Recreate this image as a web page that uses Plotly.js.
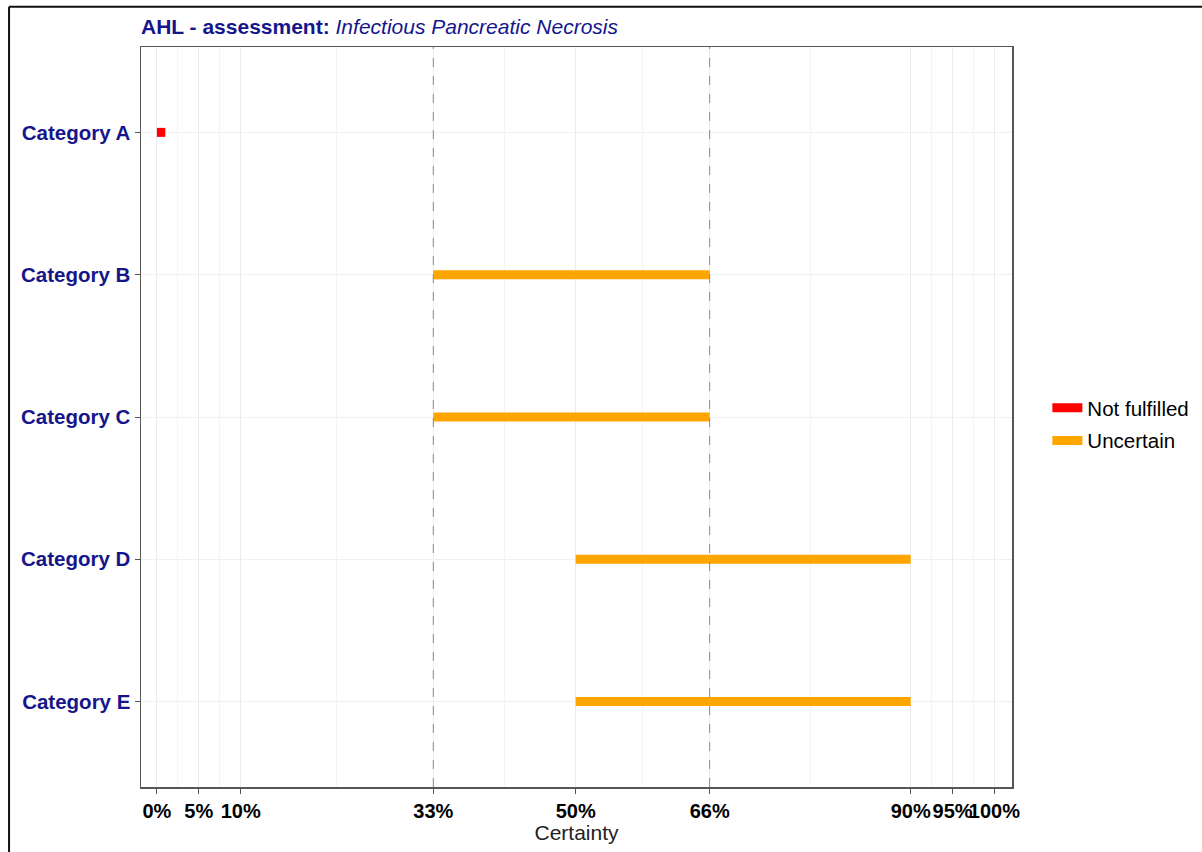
<!DOCTYPE html>
<html>
<head>
<meta charset="utf-8">
<script src="https://cdn.plot.ly/plotly-3.0.1.min.js"></script>
<style>
  html, body { margin: 0; padding: 0; background: #fff; }
  #chart { width: 1202px; height: 852px; }
</style>
</head>
<body>
<div id="chart"></div>
<script>
// ---- data ----
const categories = ["Category A", "Category B", "Category C", "Category D", "Category E"];
const startValues = [0, 33, 33, 50, 50];
const endValues   = [1, 66, 66, 90, 90];
const statuses    = ["Not fulfilled", "Uncertain", "Uncertain", "Uncertain", "Uncertain"];
const statusNames = ["Not fulfilled", "Uncertain"];
const statusColors = ["#ff0000", "#ffa500"];
const tickValues = [0, 5, 10, 33, 50, 66, 90, 95, 100];
const tickLabels = ["0%", "5%", "10%", "33%", "50%", "66%", "90%", "95%", "100%"];
const minorValues = [2.5, 7.5, 21.5, 41.5, 58, 78, 92.5, 97.5];
const refLines = [33, 66];

// ---- traces ----
const seen = {};
const traces = categories.map((cat, i) => {
  const s = statuses[i];
  const ci = statusNames.indexOf(s);
  const show = !seen[s];
  seen[s] = true;
  return {
    type: "scatter",
    mode: "lines",
    x: [startValues[i], endValues[i]],
    y: [cat, cat],
    name: s,
    legendgroup: s,
    showlegend: show,
    legendrank: ci + 1,
    line: { color: statusColors[ci], width: 9 },
    hoverinfo: "x+y+name"
  };
});

const shapes = refLines.map(v => ({
  type: "line", xref: "x", yref: "paper",
  x0: v, x1: v, y0: 0, y1: 1,
  line: { color: "#8a8a8a", width: 1, dash: "dash" },
  layer: "above"
}));
// outer frame (top and left edges)
shapes.push({ type: "line", xref: "paper", yref: "paper",
  x0: -0.1515, x1: 1.3, y0: 1.0545, y1: 1.0545,
  line: { color: "#111", width: 2 } });
shapes.push({ type: "line", xref: "paper", yref: "paper",
  x0: -0.1515, x1: -0.1515, y0: 1.0545, y1: -0.2,
  line: { color: "#111", width: 2 } });

const darkBlue = "#16168c";
const FF = "Liberation Sans, Arial, sans-serif";
const layout = {
  width: 1202, height: 852,
  margin: { l: 141, r: 190, t: 47, b: 65, autoexpand: false },
  paper_bgcolor: "#ffffff",
  plot_bgcolor: "#ffffff",
  font: { family: FF, color: "#000" },
  title: {
    text: "<b>AHL - assessment:</b> <i>Infectious Pancreatic Necrosis</i>",
    font: { size: 21, color: darkBlue, family: FF },
    x: 0, xref: "paper", xanchor: "left",
    y: 1 - 27 / 852, yref: "container", yanchor: "middle"
  },
  xaxis: {
    range: [-1.9, 102.1],
    tickmode: "array",
    tickvals: tickValues,
    ticktext: tickLabels,
    tickangle: 0,
    tickfont: { size: 20, color: "#000", family: FF, weight: "bold" },
    ticks: "outside", ticklen: 5, tickcolor: "#555", tickwidth: 1,
    showline: true, linecolor: "#555", linewidth: 1.5, mirror: true,
    showgrid: true, gridcolor: "#ebebeb", gridwidth: 1,
    minor: { tickvals: minorValues, showgrid: true, gridcolor: "#f4f4f4", gridwidth: 1, ticks: "" },
    zeroline: false,
    automargin: false,
    title: { text: "Certainty", font: { size: 21, color: "#222" }, standoff: 4 }
  },
  yaxis: {
    type: "category",
    categoryorder: "array",
    categoryarray: categories,
    range: [4.6, -0.6],
    tickfont: { size: 20.5, color: darkBlue, family: FF, weight: "bold" },
    ticks: "outside", ticklen: 5, tickcolor: "#555", tickwidth: 1,
    showline: true, linecolor: "#555", linewidth: 1.5, mirror: true,
    showgrid: true, gridcolor: "#eef0f6", gridwidth: 1,
    zeroline: false,
    automargin: false
  },
  legend: {
    x: 1.0406, xanchor: "left", y: 0.49, yanchor: "middle",
    font: { size: 20.5, color: "#000" },
    itemwidth: 30,
    tracegroupgap: 3,
    bgcolor: "rgba(0,0,0,0)"
  },
  shapes: shapes,
  showlegend: true
};

Plotly.newPlot("chart", traces, layout, { displayModeBar: false, staticPlot: true });
</script>
</body>
</html>
